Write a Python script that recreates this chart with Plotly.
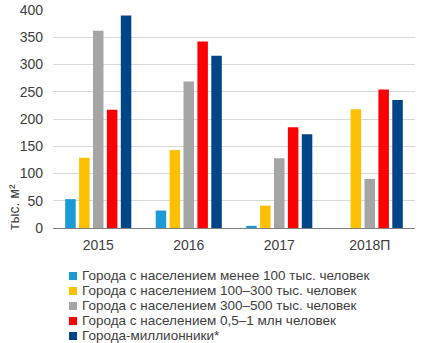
import plotly.graph_objects as go

categories = ["2015", "2016", "2017", "2018П"]
series_names = [
    "Города с населением менее 100 тыс. человек",
    "Города с населением 100–300 тыс. человек",
    "Города с населением 300–500 тыс. человек",
    "Города с населением 0,5–1 млн человек",
    "Города-миллионники*",
]
s_lt100 = [53, 32, 4, None]
s_100_300 = [129, 143, 41, 218]
s_300_500 = [362, 269, 128, 90]
s_05_1 = [217, 342, 185, 254]
s_mln = [390, 316, 172, 235]
colors = ["#1C9AD6", "#FFC000", "#A5A5A5", "#FF0000", "#004586"]
y_title = "тыс. м²"

W, H = 423, 343
L, R, T, B = 53, 8, 10, 115
PW, PH = W - L - R, H - T - B


def px_x(px):
    return (px - L) / PW


def px_y(py):
    return (H - B - py) / PH


fig = go.Figure()
for name, vals, c in zip(series_names, [s_lt100, s_100_300, s_300_500, s_05_1, s_mln], colors):
    fig.add_trace(go.Bar(x=categories, y=vals, name=name, marker_color=c, marker_line_width=0))

annotations = []
shapes = []
for i, (name, c) in enumerate(zip(series_names, colors)):
    cy = 275.0 + 15.0 * i
    shapes.append(dict(type="rect", xref="paper", yref="paper",
                       x0=px_x(69), x1=px_x(77), y0=px_y(cy + 5), y1=px_y(cy - 3)),
                  )
    shapes[-1].update(fillcolor=c, line_width=0)
    annotations.append(dict(text=name, xref="paper", yref="paper",
                            x=px_x(80), y=px_y(cy), xanchor="left", yanchor="middle",
                            showarrow=False, font=dict(size=13.5, color="#404040")))

annotations.append(dict(text=y_title, xref="paper", yref="paper", textangle=-90,
                        x=px_x(14), y=px_y(207), xanchor="center", yanchor="middle",
                        showarrow=False, font=dict(size=14, color="#404040")))

fig.update_layout(
    width=W, height=H,
    margin=dict(l=L, r=R, t=T, b=B, autoexpand=False),
    paper_bgcolor="white", plot_bgcolor="white",
    font=dict(family="Liberation Sans, Arial, sans-serif", size=14, color="#404040"),
    barmode="group", bargap=0.232, bargroupgap=0.245,
    showlegend=False,
    annotations=annotations, shapes=shapes,
    yaxis=dict(range=[0, 400], dtick=50, showgrid=True, gridcolor="#D9D9D9",
               zeroline=False, showline=False, ticks="", ticklabelstandoff=9,
               automargin=False, tickfont=dict(size=14, color="#404040")),
    xaxis=dict(showline=True, linecolor="#808080", ticks="", ticklabelstandoff=4,
               automargin=False, tickfont=dict(size=14, color="#404040")),
)
fig.write_html("out.html")
